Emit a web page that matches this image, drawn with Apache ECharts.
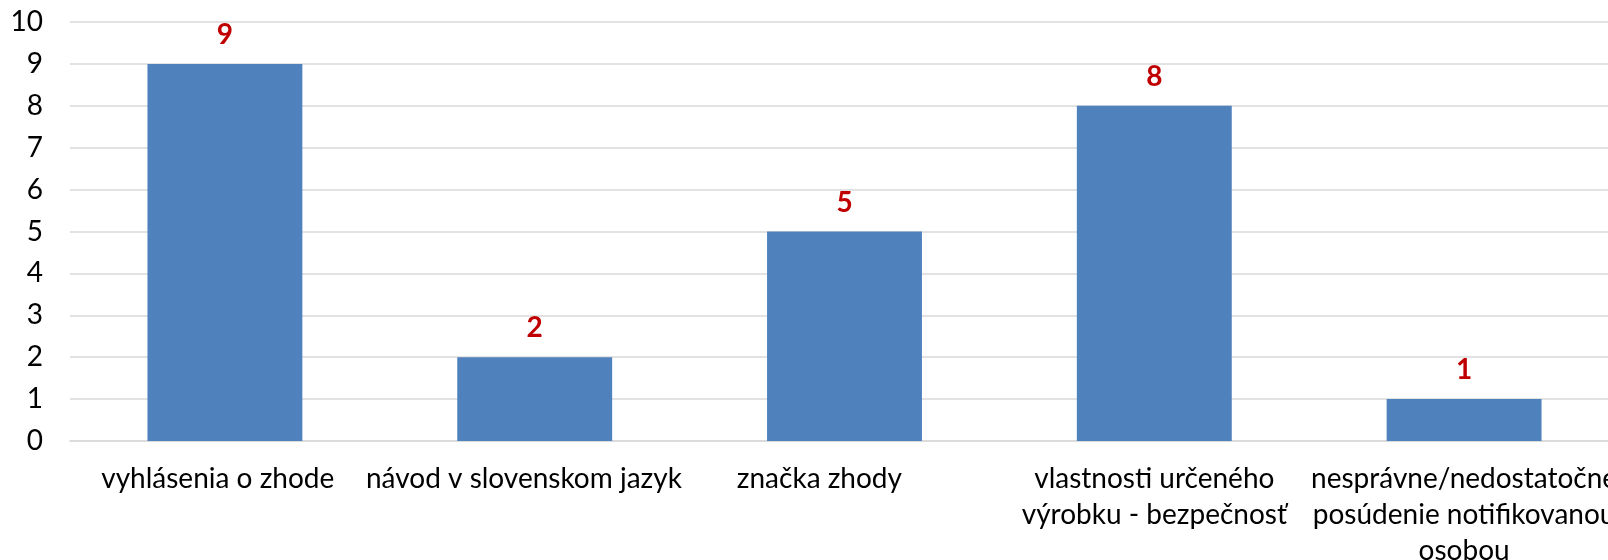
<!DOCTYPE html>
<html>
<head>
<meta charset="utf-8">
<script src="https://cdn.jsdelivr.net/npm/echarts@6/dist/echarts.min.js"></script>
<style>
html,body{margin:0;padding:0;background:#fff;}
#chart{width:1608px;height:560px;}
</style>
</head>
<body>
<div id="chart"></div>
<script>
const categories = [
  'vyhlásenia o zhode  ',
  'návod v slovenskom jazyk   ',
  'značka zhody       ',
  'vlastnosti určeného\nvýrobku - bezpečnosť',
  'nesprávne/nedostatočné\nposúdenie notifikovanou\nosobou'
];
const values = [9, 2, 5, 8, 1];
const yTicks = [0, 1, 2, 3, 4, 5, 6, 7, 8, 9, 10];

const chart = echarts.init(document.getElementById('chart'));
chart.setOption({
  animation: false,
  backgroundColor: '#ffffff',
  textStyle: { fontFamily: 'Lato' },
  grid: { left: 70, right: -11, top: 22, bottom: 119, containLabel: false, outerBoundsMode: 'none' },
  xAxis: {
    type: 'category',
    data: categories,
    axisLine: { show: true, lineStyle: { color: '#d9d9d9', width: 1.5 } },
    axisTick: { show: false },
    axisLabel: {
      interval: 0,
      color: '#000000',
      fontSize: 28,
      lineHeight: 36,
      margin: 20,
      fontFamily: 'Lato',
      align: 'center',
      hideOverlap: false
    }
  },
  yAxis: {
    type: 'value',
    min: yTicks[0],
    max: yTicks[yTicks.length - 1],
    interval: 1,
    axisLine: { show: false },
    axisTick: { show: false },
    splitLine: { lineStyle: { color: '#d9d9d9', width: 1.5 } },
    axisLabel: { color: '#000000', fontSize: 28, margin: 27, fontFamily: 'Lato' }
  },
  series: [{
    type: 'bar',
    data: values,
    barWidth: '50%',
    itemStyle: { color: '#4f81bd' },
    label: {
      show: true,
      position: 'top',
      distance: 15,
      color: '#c00000',
      fontWeight: 'bold',
      fontSize: 28,
      fontFamily: 'Lato'
    }
  }]
});
</script>
</body>
</html>
